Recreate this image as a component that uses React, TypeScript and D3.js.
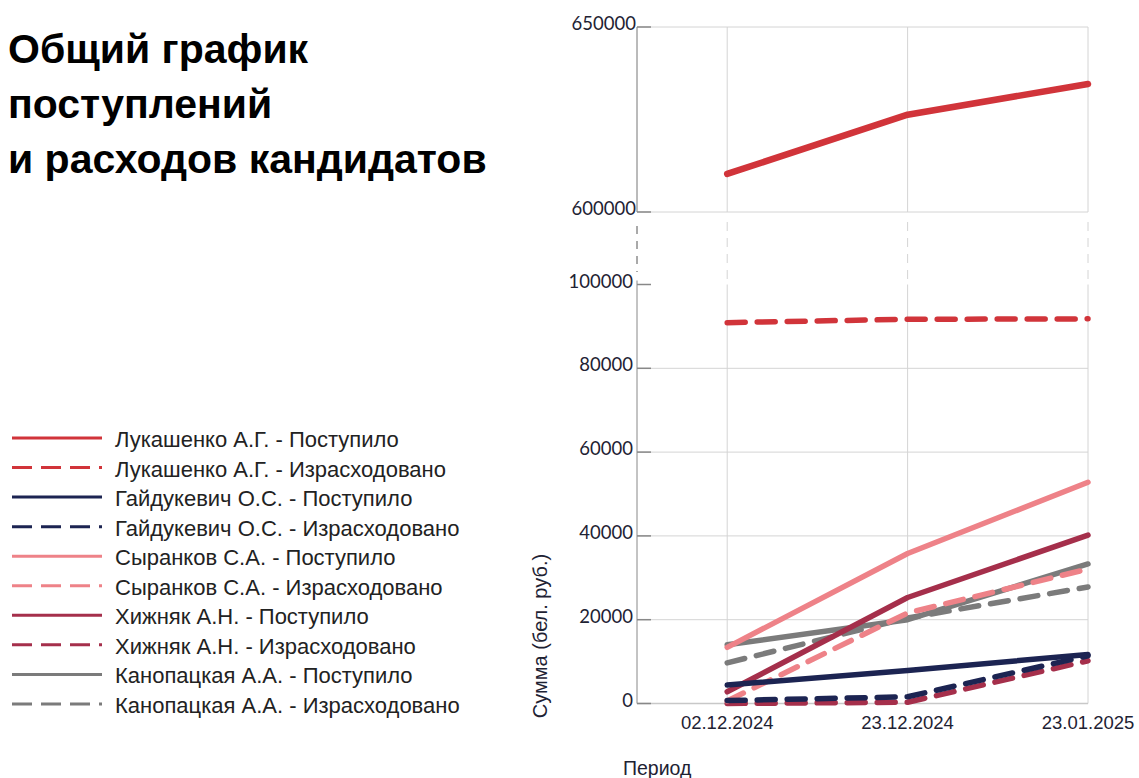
import React from 'react';
import * as d3 from 'd3';

const periods = ['02.12.2024', '23.12.2024', '23.01.2025'];
const candidates = ['Лукашенко А.Г.', 'Гайдукевич О.С.', 'Сыранков С.А.', 'Хижняк А.Н.', 'Канопацкая А.А.'];
const kinds = ['Поступило', 'Израсходовано'];

const lukashenkoReceived = [610300, 626300, 634600];
const lukashenkoSpent = [90900, 91700, 91800];
const gaidukevichReceived = [4400, 7900, 11700];
const gaidukevichSpent = [700, 1600, 11400];
const syrankovReceived = [13400, 35800, 52800];
const syrankovSpent = [600, 21600, 32100];
const khizhnyakReceived = [2800, 25300, 40200];
const khizhnyakSpent = [0, 300, 10200];
const kanopatskayaReceived = [14000, 20000, 33300];
const kanopatskayaSpent = [9700, 20400, 27800];

const colors = ['#d1343a', '#1c2452', '#ee8288', '#a52f4b', '#7b7b7b'];

const upperTicks = [600000, 650000];
const lowerTicks = [0, 20000, 40000, 60000, 80000, 100000];

const seriesValues = [
  [lukashenkoReceived, lukashenkoSpent],
  [gaidukevichReceived, gaidukevichSpent],
  [syrankovReceived, syrankovSpent],
  [khizhnyakReceived, khizhnyakSpent],
  [kanopatskayaReceived, kanopatskayaSpent],
];

type Series = { name: string; color: string; dashed: boolean; values: number[]; idx: number };

const series: Series[] = [];
candidates.forEach((c, ci) => {
  kinds.forEach((k, ki) => {
    series.push({
      name: `${c} - ${k}`,
      color: colors[ci],
      dashed: ki === 1,
      values: seriesValues[ci][ki],
      idx: series.length,
    });
  });
});

const W = 1139;
const H = 778;
const axisX = 637;

const x = d3.scaleLinear().domain([-0.5, 2]).range([axisX, 1088]);
const yTop = d3.scaleLinear().domain([600000, 650000]).range([212, 27]);
const yLow = d3.scaleLinear().domain([0, 100000]).range([703.5, 284.5]);

const fontAxis = 'Lato, "Liberation Sans", Arial, sans-serif';
const fontText = '"Liberation Sans", Arial, sans-serif';

export default function App() {
  const plotRight = x(2);
  const drawOrder = [...series].reverse();
  return (
    <svg width={W} height={H} style={{ position: 'absolute', left: 0, top: 0, background: '#fff' }}>
      {/* Title */}
      <g fontFamily={fontText} fontWeight="bold" fontSize={41} fill="#000">
        <text x={8} y={63}>Общий график</text>
        <text x={8} y={118}>поступлений</text>
        <text x={8} y={173}>и расходов кандидатов</text>
      </g>

      {/* Top panel grid */}
      <g>
        {upperTicks.map((t) => (
          <line key={t} x1={axisX} x2={plotRight} y1={yTop(t)} y2={yTop(t)} stroke="#d4d4d4" strokeWidth={1} />
        ))}
        {periods.map((p, i) => (
          <line key={p} x1={x(i)} x2={x(i)} y1={yTop(650000)} y2={yTop(600000)} stroke="#d4d4d4" strokeWidth={1} />
        ))}
        <line x1={axisX} x2={axisX} y1={yTop(650000)} y2={yTop(600000)} stroke="#777" strokeWidth={1} />
      </g>

      {/* Break region */}
      <g>
        {periods.map((p, i) => (
          <line key={p} x1={x(i)} x2={x(i)} y1={222} y2={yLow(100000)} stroke="#d4d4d4" strokeWidth={1} strokeDasharray="9 7" />
        ))}
        <line x1={axisX} x2={axisX} y1={226} y2={272} stroke="#555" strokeWidth={1} strokeDasharray="8 7" />
      </g>

      {/* Lower panel grid */}
      <g>
        {lowerTicks.filter((t) => t > 0 && t < 100000).map((t) => (
          <line key={t} x1={axisX} x2={plotRight} y1={yLow(t)} y2={yLow(t)} stroke="#d4d4d4" strokeWidth={1} />
        ))}
        {periods.map((p, i) => (
          <line key={p} x1={x(i)} x2={x(i)} y1={yLow(100000)} y2={yLow(0)} stroke="#d4d4d4" strokeWidth={1} />
        ))}
        <line x1={axisX} x2={plotRight} y1={yLow(0)} y2={yLow(0)} stroke="#c8c8c8" strokeWidth={1.5} />
        <line x1={axisX} x2={axisX} y1={yLow(100000) - 4} y2={yLow(0)} stroke="#888" strokeWidth={1} />
      </g>

      {/* Y ticks */}
      <g fontFamily={fontAxis} fontSize={18.5} fill="#1e2233">
        {upperTicks.map((t) => (
          <g key={t}>
            <line x1={axisX} x2={axisX + 14} y1={yTop(t)} y2={yTop(t)} stroke="#888" strokeWidth={1.5} />
            <text x={axisX - 1} y={yTop(t) + 3} textAnchor="end">{t}</text>
          </g>
        ))}
        {lowerTicks.map((t) => (
          <g key={t}>
            <line x1={axisX} x2={axisX + 14} y1={yLow(t)} y2={yLow(t)} stroke="#888" strokeWidth={1.5} />
            <text x={axisX - 4} y={yLow(t) + 3} textAnchor="end">{t}</text>
          </g>
        ))}
      </g>

      {/* X labels */}
      <g fontFamily={fontText} fill="#1e2233">
        {periods.map((p, i) => (
          <text key={p} x={x(i)} y={729} textAnchor="middle" fontSize={18.5}>{p}</text>
        ))}
        <text x={623} y={775} fontSize={19.5}>Период</text>
        <text transform={`translate(547,636) rotate(-90)`} textAnchor="middle" fontSize={20}>Сумма (бел. руб.)</text>
      </g>

      {/* Lines */}
      <g fill="none" strokeLinecap="round" strokeLinejoin="round">
        {drawOrder.map((s) => {
          const yScale = s.values[0] >= 600000 ? yTop : yLow;
          const gen = d3.line<number>().x((_, i) => x(i)).y((v) => yScale(v));
          return (
            <path
              key={s.name}
              d={gen(s.values) || ''}
              stroke={s.color}
              strokeWidth={s.idx === 0 ? 6.5 : 5.5}
              strokeDasharray={s.dashed ? '18 12' : undefined}
            />
          );
        })}
      </g>

      {/* Legend */}
      <g fontFamily={fontText} fontSize={22} fill="#222">
        {series.map((s, i) => {
          const yy = 438 + i * 29.55;
          return (
            <g key={s.name}>
              <line x1={12} x2={102} y1={yy} y2={yy} stroke={s.color} strokeWidth={3} strokeDasharray={s.dashed ? '20 9' : undefined} />
              <text x={115} y={yy + 9}>{s.name}</text>
            </g>
          );
        })}
      </g>
    </svg>
  );
}
